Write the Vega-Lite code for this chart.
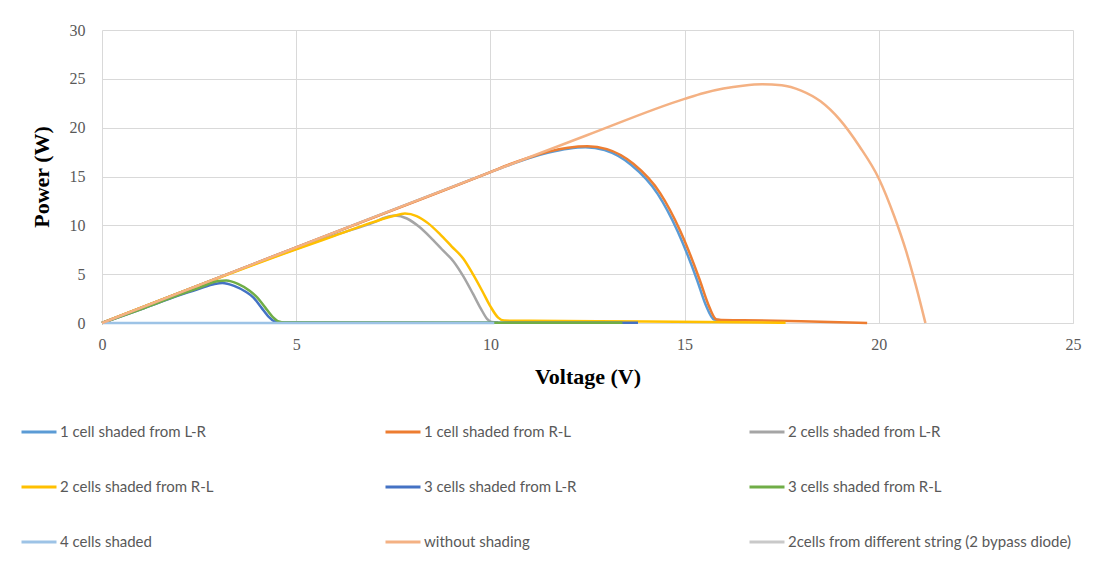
{
  "$schema": "https://vega.github.io/schema/vega-lite/v6.json",
  "autosize": "none",
  "width": 971,
  "height": 293,
  "padding": {"left": 102, "top": 30, "right": 33, "bottom": 256},
  "background": "white",
  "config": {
    "view": {"stroke": null},
    "axis": {"gridColor": "#D9D9D9", "gridWidth": 1, "ticks": false, "labelFlush": false, "labelFont": "Liberation Serif", "labelFontSize": 16, "labelColor": "#595959", "titleFont": "Liberation Serif", "titleFontSize": 22, "titleFontWeight": "bold", "titleColor": "#000000"}
  },
  "data": {"values": [
    {"series": "1 cell shaded from L-R", "v": 0, "p": 0},
    {"series": "1 cell shaded from L-R", "v": 5, "p": 7.75},
    {"series": "1 cell shaded from L-R", "v": 10, "p": 15.45},
    {"series": "1 cell shaded from L-R", "v": 10.5, "p": 16.2},
    {"series": "1 cell shaded from L-R", "v": 11, "p": 16.9},
    {"series": "1 cell shaded from L-R", "v": 11.5, "p": 17.45},
    {"series": "1 cell shaded from L-R", "v": 12, "p": 17.85},
    {"series": "1 cell shaded from L-R", "v": 12.45, "p": 18.0},
    {"series": "1 cell shaded from L-R", "v": 12.94, "p": 17.7},
    {"series": "1 cell shaded from L-R", "v": 13.62, "p": 16.2},
    {"series": "1 cell shaded from L-R", "v": 14.31, "p": 13.2},
    {"series": "1 cell shaded from L-R", "v": 14.82, "p": 9.4},
    {"series": "1 cell shaded from L-R", "v": 15.33, "p": 4.3},
    {"series": "1 cell shaded from L-R", "v": 15.54, "p": 1.9},
    {"series": "1 cell shaded from L-R", "v": 15.76, "p": 0.35},
    {"series": "1 cell shaded from L-R", "v": 15.9, "p": 0.3},

    {"series": "1 cell shaded from R-L", "v": 0, "p": 0},
    {"series": "1 cell shaded from R-L", "v": 5, "p": 7.75},
    {"series": "1 cell shaded from R-L", "v": 10, "p": 15.45},
    {"series": "1 cell shaded from R-L", "v": 10.5, "p": 16.25},
    {"series": "1 cell shaded from R-L", "v": 11, "p": 16.95},
    {"series": "1 cell shaded from R-L", "v": 11.5, "p": 17.55},
    {"series": "1 cell shaded from R-L", "v": 12, "p": 17.95},
    {"series": "1 cell shaded from R-L", "v": 12.5, "p": 18.1},
    {"series": "1 cell shaded from R-L", "v": 13, "p": 17.8},
    {"series": "1 cell shaded from R-L", "v": 13.68, "p": 16.3},
    {"series": "1 cell shaded from R-L", "v": 14.37, "p": 13.3},
    {"series": "1 cell shaded from R-L", "v": 14.88, "p": 9.5},
    {"series": "1 cell shaded from R-L", "v": 15.39, "p": 4.4},
    {"series": "1 cell shaded from R-L", "v": 15.6, "p": 2.0},
    {"series": "1 cell shaded from R-L", "v": 15.82, "p": 0.35},
    {"series": "1 cell shaded from R-L", "v": 15.95, "p": 0.3},
    {"series": "1 cell shaded from R-L", "v": 16.5, "p": 0.28},
    {"series": "1 cell shaded from R-L", "v": 18, "p": 0.18},
    {"series": "1 cell shaded from R-L", "v": 19.7, "p": 0.0},

    {"series": "2 cells shaded from L-R", "v": 0, "p": 0},
    {"series": "2 cells shaded from L-R", "v": 5, "p": 7.6},
    {"series": "2 cells shaded from L-R", "v": 6, "p": 9.0},
    {"series": "2 cells shaded from L-R", "v": 7, "p": 10.3},
    {"series": "2 cells shaded from L-R", "v": 7.3, "p": 10.8},
    {"series": "2 cells shaded from L-R", "v": 7.55, "p": 11.0},
    {"series": "2 cells shaded from L-R", "v": 7.85, "p": 10.7},
    {"series": "2 cells shaded from L-R", "v": 8.15, "p": 9.9},
    {"series": "2 cells shaded from L-R", "v": 8.45, "p": 8.8},
    {"series": "2 cells shaded from L-R", "v": 8.75, "p": 7.55},
    {"series": "2 cells shaded from L-R", "v": 9.05, "p": 6.3},
    {"series": "2 cells shaded from L-R", "v": 9.3, "p": 4.8},
    {"series": "2 cells shaded from L-R", "v": 9.55, "p": 3.0},
    {"series": "2 cells shaded from L-R", "v": 9.75, "p": 1.5},
    {"series": "2 cells shaded from L-R", "v": 9.92, "p": 0.4},
    {"series": "2 cells shaded from L-R", "v": 10.03, "p": 0.1},
    {"series": "2 cells shaded from L-R", "v": 10.2, "p": 0.05},

    {"series": "2 cells shaded from R-L", "v": 0, "p": 0},
    {"series": "2 cells shaded from R-L", "v": 5, "p": 7.55},
    {"series": "2 cells shaded from R-L", "v": 6, "p": 8.95},
    {"series": "2 cells shaded from R-L", "v": 7, "p": 10.35},
    {"series": "2 cells shaded from R-L", "v": 7.5, "p": 10.95},
    {"series": "2 cells shaded from R-L", "v": 7.8, "p": 11.2},
    {"series": "2 cells shaded from R-L", "v": 8.1, "p": 10.95},
    {"series": "2 cells shaded from R-L", "v": 8.4, "p": 10.2},
    {"series": "2 cells shaded from R-L", "v": 8.7, "p": 9.1},
    {"series": "2 cells shaded from R-L", "v": 9.0, "p": 7.85},
    {"series": "2 cells shaded from R-L", "v": 9.3, "p": 6.6},
    {"series": "2 cells shaded from R-L", "v": 9.55, "p": 5.0},
    {"series": "2 cells shaded from R-L", "v": 9.8, "p": 3.2},
    {"series": "2 cells shaded from R-L", "v": 10.0, "p": 1.7},
    {"series": "2 cells shaded from R-L", "v": 10.2, "p": 0.55},
    {"series": "2 cells shaded from R-L", "v": 10.35, "p": 0.25},
    {"series": "2 cells shaded from R-L", "v": 11, "p": 0.22},
    {"series": "2 cells shaded from R-L", "v": 14, "p": 0.15},
    {"series": "2 cells shaded from R-L", "v": 17.6, "p": 0.02},

    {"series": "3 cells shaded from L-R", "v": 0, "p": 0},
    {"series": "3 cells shaded from L-R", "v": 1, "p": 1.4},
    {"series": "3 cells shaded from L-R", "v": 2, "p": 2.85},
    {"series": "3 cells shaded from L-R", "v": 2.5, "p": 3.5},
    {"series": "3 cells shaded from L-R", "v": 2.9, "p": 4.0},
    {"series": "3 cells shaded from L-R", "v": 3.1, "p": 4.1},
    {"series": "3 cells shaded from L-R", "v": 3.4, "p": 3.8},
    {"series": "3 cells shaded from L-R", "v": 3.7, "p": 3.2},
    {"series": "3 cells shaded from L-R", "v": 3.9, "p": 2.6},
    {"series": "3 cells shaded from L-R", "v": 4.1, "p": 1.6},
    {"series": "3 cells shaded from L-R", "v": 4.3, "p": 0.6},
    {"series": "3 cells shaded from L-R", "v": 4.45, "p": 0.15},
    {"series": "3 cells shaded from L-R", "v": 4.6, "p": 0.05},
    {"series": "3 cells shaded from L-R", "v": 13.8, "p": 0.02},

    {"series": "3 cells shaded from R-L", "v": 0, "p": 0},
    {"series": "3 cells shaded from R-L", "v": 1, "p": 1.4},
    {"series": "3 cells shaded from R-L", "v": 2, "p": 2.9},
    {"series": "3 cells shaded from R-L", "v": 2.5, "p": 3.6},
    {"series": "3 cells shaded from R-L", "v": 3.0, "p": 4.3},
    {"series": "3 cells shaded from R-L", "v": 3.2, "p": 4.35},
    {"series": "3 cells shaded from R-L", "v": 3.5, "p": 4.0},
    {"series": "3 cells shaded from R-L", "v": 3.8, "p": 3.3},
    {"series": "3 cells shaded from R-L", "v": 4.0, "p": 2.6},
    {"series": "3 cells shaded from R-L", "v": 4.2, "p": 1.6},
    {"series": "3 cells shaded from R-L", "v": 4.4, "p": 0.6},
    {"series": "3 cells shaded from R-L", "v": 4.55, "p": 0.15},
    {"series": "3 cells shaded from R-L", "v": 4.7, "p": 0.05},
    {"series": "3 cells shaded from R-L", "v": 13.4, "p": 0.02},

    {"series": "4 cells shaded", "v": 0, "p": 0},
    {"series": "4 cells shaded", "v": 5, "p": 0.01},
    {"series": "4 cells shaded", "v": 10.1, "p": 0.01},

    {"series": "without shading", "v": 0, "p": 0},
    {"series": "without shading", "v": 5, "p": 7.75},
    {"series": "without shading", "v": 10, "p": 15.45},
    {"series": "without shading", "v": 12.5, "p": 19.25},
    {"series": "without shading", "v": 15, "p": 22.95},
    {"series": "without shading", "v": 15.5, "p": 23.55},
    {"series": "without shading", "v": 16, "p": 24.0},
    {"series": "without shading", "v": 16.5, "p": 24.3},
    {"series": "without shading", "v": 17, "p": 24.45},
    {"series": "without shading", "v": 17.5, "p": 24.35},
    {"series": "without shading", "v": 18, "p": 23.8},
    {"series": "without shading", "v": 18.5, "p": 22.7},
    {"series": "without shading", "v": 19, "p": 20.8},
    {"series": "without shading", "v": 19.5, "p": 18.1},
    {"series": "without shading", "v": 20, "p": 14.8},
    {"series": "without shading", "v": 20.4, "p": 10.9},
    {"series": "without shading", "v": 20.7, "p": 7.4},
    {"series": "without shading", "v": 20.95, "p": 3.9},
    {"series": "without shading", "v": 21.2, "p": 0},

    {"series": "2cells from different string (2 bypass diode)", "v": 0, "p": 0}
  ]},
  "mark": {"type": "line", "strokeWidth": 2.5, "interpolate": "monotone"},
  "encoding": {
    "x": {"field": "v", "type": "quantitative", "title": "Voltage (V)",
          "scale": {"domain": [0, 25], "nice": false},
          "axis": {"values": [0, 5, 10, 15, 20, 25], "domainColor": "#D9D9D9", "labelPadding": 13, "titlePadding": 14}},
    "y": {"field": "p", "type": "quantitative", "title": "Power (W)",
          "scale": {"domain": [0, 30], "nice": false},
          "axis": {"values": [0, 5, 10, 15, 20, 25, 30], "domain": false, "labelPadding": 17, "titlePadding": 16}},
    "color": {"field": "series", "type": "nominal",
      "scale": {
        "domain": ["1 cell shaded from L-R", "1 cell shaded from R-L", "2 cells shaded from L-R", "2 cells shaded from R-L", "3 cells shaded from L-R", "3 cells shaded from R-L", "4 cells shaded", "without shading", "2cells from different string (2 bypass diode)"],
        "range": ["#5B9BD5", "#ED7D31", "#A5A5A5", "#FFC000", "#4472C4", "#70AD47", "#9DC3E6", "#F4B183", "#C9C9C9"]
      },
      "legend": {
        "title": null, "orient": "none", "legendX": -82, "legendY": 383,
        "direction": "horizontal", "columns": 3, "gridAlign": "all",
        "symbolType": "stroke", "symbolSize": 1225, "symbolStrokeWidth": 3,
        "labelFont": "Lato", "labelFontSize": 15, "labelColor": "#595959", "labelLimit": 500, "labelOffset": 2,
        "columnPadding": 36, "rowPadding": 28
      }
    }
  }
}
